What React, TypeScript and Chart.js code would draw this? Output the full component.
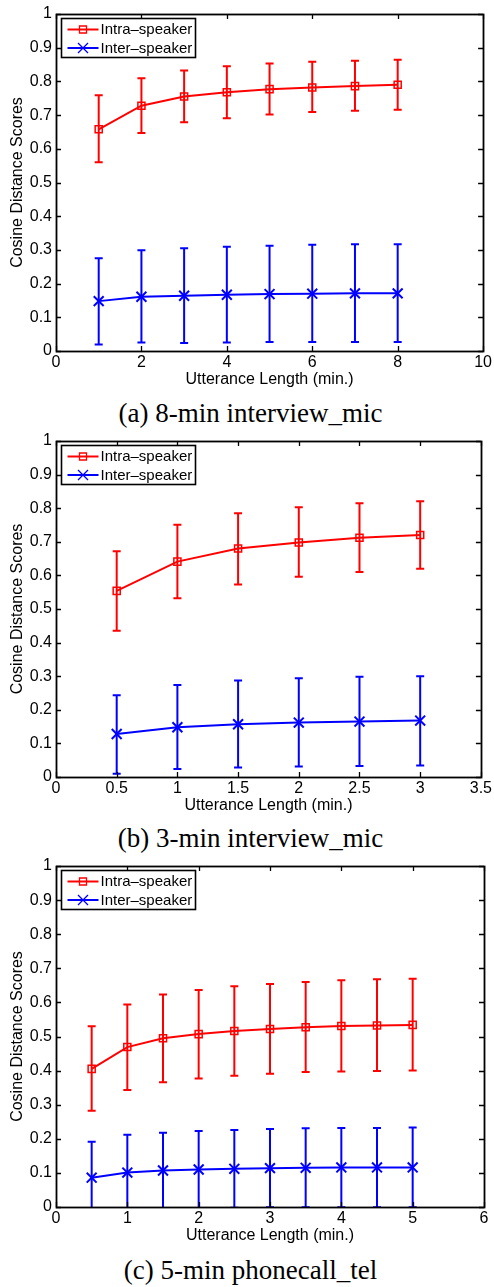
import React, { useEffect, useRef } from 'react';
import { Chart, registerables } from 'chart.js';

Chart.register(...registerables);

// ---------- data ----------
const SERIES_LABELS = ['Intra–speaker', 'Inter–speaker'];
const Y_TITLE = 'Cosine Distance Scores';
const X_TITLE = 'Utterance Length (min.)';
const CAPTIONS = ['(a) 8-min interview_mic', '(b) 3-min interview_mic', '(c) 5-min phonecall_tel'];

// (a) 8-min interview_mic
const X_A = [1, 2, 3, 4, 5, 6, 7, 8];
const INTRA_A = [0.658, 0.728, 0.755, 0.768, 0.777, 0.782, 0.786, 0.79];
const INTRA_A_HI = [0.759, 0.809, 0.832, 0.845, 0.853, 0.858, 0.861, 0.864];
const INTRA_A_LO = [0.56, 0.647, 0.679, 0.691, 0.702, 0.709, 0.713, 0.716];
const INTER_A = [0.148, 0.161, 0.164, 0.167, 0.169, 0.17, 0.171, 0.171];
const INTER_A_HI = [0.275, 0.299, 0.305, 0.309, 0.312, 0.315, 0.317, 0.317];
const INTER_A_LO = [0.019, 0.025, 0.024, 0.025, 0.027, 0.027, 0.027, 0.027];

// (b) 3-min interview_mic
const X_B = [0.5, 1, 1.5, 2, 2.5, 3];
const INTRA_B = [0.554, 0.641, 0.68, 0.698, 0.712, 0.72];
const INTRA_B_HI = [0.672, 0.751, 0.785, 0.803, 0.815, 0.821];
const INTRA_B_LO = [0.435, 0.532, 0.573, 0.596, 0.61, 0.62];
const INTER_B = [0.128, 0.148, 0.157, 0.162, 0.165, 0.168];
const INTER_B_HI = [0.243, 0.274, 0.287, 0.294, 0.298, 0.3];
const INTER_B_LO = [0.01, 0.024, 0.028, 0.031, 0.033, 0.034];

// (c) 5-min phonecall_tel
const X_C = [0.5, 1, 1.5, 2, 2.5, 3, 3.5, 4, 4.5, 5];
const INTRA_C = [0.405, 0.469, 0.495, 0.507, 0.516, 0.522, 0.527, 0.531, 0.532, 0.534];
const INTRA_C_HI = [0.53, 0.594, 0.623, 0.636, 0.647, 0.654, 0.66, 0.665, 0.668, 0.669];
const INTRA_C_LO = [0.282, 0.343, 0.366, 0.377, 0.385, 0.391, 0.396, 0.397, 0.399, 0.4];
const INTER_C = [0.086, 0.101, 0.107, 0.11, 0.112, 0.114, 0.115, 0.116, 0.116, 0.116];
const INTER_C_HI = [0.191, 0.212, 0.218, 0.223, 0.226, 0.229, 0.231, 0.232, 0.232, 0.233];
const INTER_C_LO = [-0.02, -0.01, -0.005, -0.003, -0.002, -0.001, -0.001, -0.001, -0.001, -0.001];

// axis ranges
const X_MAX = [10, 3.5, 6];
const X_STEP = [2, 0.5, 1];
const Y_MIN = 0;
const Y_MAX = 1;
const Y_STEP = 0.1;

// ---------- styling / layout ----------
const SANS = '"Liberation Sans", Arial, Helvetica, sans-serif';
const SERIF = '"Liberation Serif", "Times New Roman", Times, serif';
const RED = '#ff0000';
const BLUE = '#0000ff';

const PANELS = [
  { canvasTop: 0, height: 392, padTop: 14, padRight: 10, captionTop: 400 },
  { canvasTop: 426, height: 392, padTop: 15, padRight: 11.7, captionTop: 825 },
  { canvasTop: 852, height: 396, padTop: 14, padRight: 10, captionTop: 1257 },
];

const fmt = (v: number) => String(Number(Number(v).toFixed(2)));

const errorBarPlugin = {
  id: 'errorBars',
  beforeDatasetsDraw(chart: any) {
    const { ctx, chartArea, scales } = chart;
    ctx.save();
    ctx.beginPath();
    ctx.rect(chartArea.left, chartArea.top, chartArea.right - chartArea.left, chartArea.bottom - chartArea.top);
    ctx.clip();
    chart.data.datasets.forEach((ds: any) => {
      ctx.strokeStyle = ds.borderColor;
      ctx.lineWidth = 2;
      ds.data.forEach((p: any, j: number) => {
        const x = scales.x.getPixelForValue(p.x);
        const yl = scales.y.getPixelForValue(ds.errLo[j]);
        const yh = scales.y.getPixelForValue(ds.errHi[j]);
        ctx.beginPath();
        ctx.moveTo(x, yl);
        ctx.lineTo(x, yh);
        ctx.moveTo(x - 4, yl);
        ctx.lineTo(x + 4, yl);
        ctx.moveTo(x - 4, yh);
        ctx.lineTo(x + 4, yh);
        ctx.stroke();
      });
    });
    ctx.restore();
  },
};

const framePlugin = {
  id: 'frame',
  afterDraw(chart: any) {
    const { ctx, chartArea, scales } = chart;
    const { left, right, top, bottom } = chartArea;
    const L = 5;
    ctx.save();
    ctx.strokeStyle = '#000';
    ctx.lineWidth = 1.3;
    ctx.beginPath();
    scales.x.ticks.forEach((t: any) => {
      const x = Math.round(scales.x.getPixelForValue(t.value)) + 0.5;
      ctx.moveTo(x, bottom);
      ctx.lineTo(x, bottom - L);
      ctx.moveTo(x, top);
      ctx.lineTo(x, top + L);
    });
    scales.y.ticks.forEach((t: any) => {
      const y = Math.round(scales.y.getPixelForValue(t.value)) + 0.5;
      ctx.moveTo(left, y);
      ctx.lineTo(left + L, y);
      ctx.moveTo(right, y);
      ctx.lineTo(right - L, y);
    });
    ctx.stroke();
    ctx.lineWidth = 1.8;
    ctx.strokeRect(Math.round(left) + 0.5, Math.round(top) + 0.5, Math.round(right - left), Math.round(bottom - top));
    ctx.restore();
  },
};

const legendPlugin = {
  id: 'insideLegend',
  afterDraw(chart: any) {
    const { ctx, chartArea } = chart;
    const bx = Math.round(chartArea.left + 5) + 0.5;
    const by = Math.round(chartArea.top + 4) + 0.5;
    const bw = 134;
    const bh = 39;
    ctx.save();
    ctx.fillStyle = '#fff';
    ctx.fillRect(bx, by, bw, bh);
    ctx.strokeStyle = '#000';
    ctx.lineWidth = 1.6;
    ctx.strokeRect(bx, by, bw, bh);
    chart.data.datasets.forEach((ds: any, i: number) => {
      const cy = by + 11 + i * 18.5;
      const x0 = bx + 6;
      const x1 = bx + 37;
      const cx = (x0 + x1) / 2;
      ctx.strokeStyle = ds.borderColor;
      ctx.lineWidth = 2;
      ctx.beginPath();
      ctx.moveTo(x0, cy);
      ctx.lineTo(x1, cy);
      ctx.stroke();
      ctx.lineWidth = 1.3;
      ctx.beginPath();
      if (ds.pointStyle === 'rect') {
        ctx.rect(cx - 3.5, cy - 3.5, 7, 7);
      } else {
        ctx.moveTo(cx - 5, cy - 5);
        ctx.lineTo(cx + 5, cy + 5);
        ctx.moveTo(cx + 5, cy - 5);
        ctx.lineTo(cx - 5, cy + 5);
      }
      ctx.stroke();
      ctx.fillStyle = '#000';
      ctx.font = `15px ${SANS}`;
      ctx.textBaseline = 'middle';
      ctx.textAlign = 'left';
      ctx.fillText(ds.label, bx + 39, cy + 0.5);
    });
    ctx.restore();
  },
};

type PanelData = {
  xs: number[];
  intra: number[];
  intraHi: number[];
  intraLo: number[];
  inter: number[];
  interHi: number[];
  interLo: number[];
};

const PANEL_DATA: PanelData[] = [
  { xs: X_A, intra: INTRA_A, intraHi: INTRA_A_HI, intraLo: INTRA_A_LO, inter: INTER_A, interHi: INTER_A_HI, interLo: INTER_A_LO },
  { xs: X_B, intra: INTRA_B, intraHi: INTRA_B_HI, intraLo: INTRA_B_LO, inter: INTER_B, interHi: INTER_B_HI, interLo: INTER_B_LO },
  { xs: X_C, intra: INTRA_C, intraHi: INTRA_C_HI, intraLo: INTRA_C_LO, inter: INTER_C, interHi: INTER_C_HI, interLo: INTER_C_LO },
];

function Panel({ idx }: { idx: number }) {
  const ref = useRef<HTMLCanvasElement | null>(null);
  const layout = PANELS[idx];
  useEffect(() => {
    const d = PANEL_DATA[idx];
    const font = { family: SANS, size: 16 };
    const chart = new Chart(ref.current as HTMLCanvasElement, {
      type: 'line',
      data: {
        datasets: [
          {
            label: SERIES_LABELS[0],
            data: d.xs.map((x, i) => ({ x, y: d.intra[i] })),
            errLo: d.intraLo,
            errHi: d.intraHi,
            borderColor: RED,
            backgroundColor: 'rgba(0,0,0,0)',
            borderWidth: 2,
            pointStyle: 'rect',
            pointRadius: 5,
            pointHoverRadius: 5,
            pointBorderWidth: 1.5,
            pointBorderColor: RED,
            pointBackgroundColor: 'rgba(0,0,0,0)',
            tension: 0,
          } as any,
          {
            label: SERIES_LABELS[1],
            data: d.xs.map((x, i) => ({ x, y: d.inter[i] })),
            errLo: d.interLo,
            errHi: d.interHi,
            borderColor: BLUE,
            backgroundColor: 'rgba(0,0,0,0)',
            borderWidth: 2,
            pointStyle: 'crossRot',
            pointRadius: 7,
            pointHoverRadius: 7,
            pointBorderWidth: 2,
            pointBorderColor: BLUE,
            pointBackgroundColor: 'rgba(0,0,0,0)',
            tension: 0,
          } as any,
        ],
      },
      options: {
        responsive: false,
        maintainAspectRatio: false,
        animation: false,
        devicePixelRatio: 1,
        events: [],
        layout: { padding: { top: layout.padTop, right: layout.padRight, bottom: 0, left: 0 } },
        plugins: { legend: { display: false }, tooltip: { enabled: false } },
        scales: {
          x: {
            type: 'linear',
            min: 0,
            max: X_MAX[idx],
            grid: { display: false, drawTicks: false, tickLength: 0 },
            border: { display: false },
            ticks: {
              stepSize: X_STEP[idx],
              font,
              color: '#000',
              padding: 2,
              maxRotation: 0,
              autoSkip: false,
              callback: (v: any) => fmt(v),
            },
            title: { display: true, text: X_TITLE, font, color: '#000', padding: { top: 0, bottom: 2.4 } },
            afterFit: (s: any) => {
              s.height = 41;
            },
          },
          y: {
            type: 'linear',
            min: Y_MIN,
            max: Y_MAX,
            grid: { display: false, drawTicks: false, tickLength: 0 },
            border: { display: false },
            ticks: {
              stepSize: Y_STEP,
              font,
              color: '#000',
              padding: 4,
              autoSkip: false,
              callback: (v: any) => fmt(v),
            },
            title: { display: true, text: Y_TITLE, font, color: '#000', padding: { top: 8, bottom: 0 } },
            afterFit: (s: any) => {
              s.width = 56;
            },
          },
        },
      } as any,
      plugins: [errorBarPlugin, framePlugin, legendPlugin],
    });
    return () => chart.destroy();
  }, [idx]);

  return (
    <>
      <canvas
        ref={ref}
        width={494}
        height={layout.height}
        style={{ position: 'absolute', left: 0, top: layout.canvasTop, width: 494, height: layout.height }}
      />
      <div
        style={{
          position: 'absolute',
          left: 0,
          top: layout.captionTop,
          width: 501,
          textAlign: 'center',
          fontFamily: SERIF,
          fontSize: 27,
          lineHeight: '27px',
          color: '#000',
          whiteSpace: 'nowrap',
        }}
      >
        {CAPTIONS[idx]}
      </div>
    </>
  );
}

export default function App() {
  return (
    <div style={{ position: 'absolute', left: 0, top: 0, width: 494, height: 1287, background: '#fff', overflow: 'hidden' }}>
      <Panel idx={0} />
      <Panel idx={1} />
      <Panel idx={2} />
    </div>
  );
}
